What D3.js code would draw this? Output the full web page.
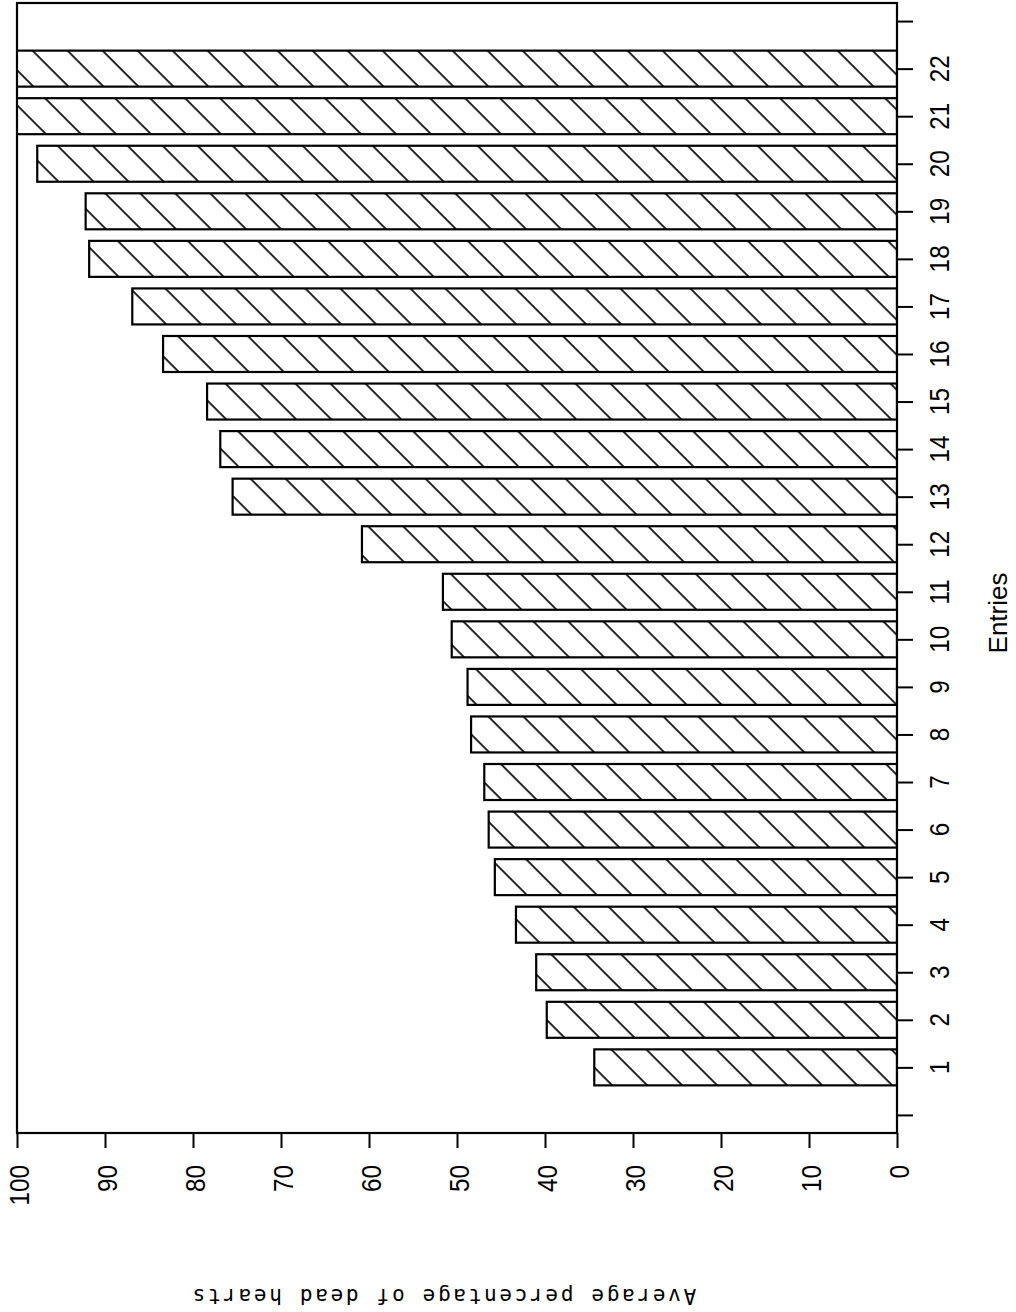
<!DOCTYPE html>
<html>
<head>
<meta charset="utf-8">
<script src="https://cdn.jsdelivr.net/npm/d3@7"></script>
<style>
  body { margin: 0; background: #fff; }
  svg { display: block; }
</style>
</head>
<body>
<div id="chart"></div>
<script>
// entries 1..22 and average % of dead hearts (21 and 22 run off the top of the scale)
var entries = [1, 2, 3, 4, 5, 6, 7, 8, 9, 10, 11,
               12, 13, 14, 15, 16, 17, 18, 19, 20, 21, 22];
var deadHearts = [34.4, 39.8, 41.0, 43.3, 45.7, 46.4, 46.9, 48.4, 48.8, 50.6, 51.6,
                  60.8, 75.5, 76.9, 78.4, 83.4, 86.9, 91.8, 92.2, 97.7, 100, 100];
var valueTicks = [0, 10, 20, 30, 40, 50, 60, 70, 80, 90, 100];
var entryTicks = d3.range(0, 24);   // 0 and 23 are blank end ticks

var w = 1016;
var h = 1312;

var svg = d3.select("#chart")
            .append("svg")
            .attr("width", w)
            .attr("height", h);

// the page is a vertical bar chart turned on its side: value runs right->left
var x = d3.scaleLinear().domain([0, 100]).range([897, 17]);
var y = d3.scaleLinear().domain([-0.38, 23.38]).range([1133, 3]);
var barH = y(0) - y(0.757);

// hatch fill
var defs = svg.append("defs");
var pat = defs.append("pattern")
    .attr("id", "hatch")
    .attr("patternUnits", "userSpaceOnUse")
    .attr("width", 24.75)
    .attr("height", 24.75)
    .attr("patternTransform", "rotate(-45)");
pat.append("line")
    .attr("x1", 12).attr("y1", 0)
    .attr("x2", 12).attr("y2", 24.75)
    .attr("stroke", "#000")
    .attr("stroke-width", 1.7);

defs.append("clipPath").attr("id", "plotClip")
    .append("rect")
    .attr("x", x(100)).attr("y", y(23.38))
    .attr("width", x(0) - x(100))
    .attr("height", y(-0.38) - y(23.38));

var data = entries.map(function(e, i) { return { entry: e, value: deadHearts[i] }; });

svg.append("g")
   .attr("clip-path", "url(#plotClip)")
   .selectAll("rect")
   .data(data)
   .enter()
   .append("rect")
   .attr("x", function(d) { return x(Math.min(d.value, 100)) - (d.value >= 100 ? 4 : 0); })
   .attr("y", function(d) { return y(d.entry) - barH / 2; })
   .attr("width", function(d) { return x(0) - x(Math.min(d.value, 100)) + (d.value >= 100 ? 4 : 0); })
   .attr("height", barH)
   .attr("fill", "url(#hatch)")
   .attr("stroke", "#000")
   .attr("stroke-width", 2.2);

// frame
svg.append("rect")
   .attr("x", x(100)).attr("y", y(23.38))
   .attr("width", x(0) - x(100))
   .attr("height", y(-0.38) - y(23.38))
   .attr("fill", "none")
   .attr("stroke", "#000")
   .attr("stroke-width", 2.2);

var labelFont = "'Liberation Sans', Arial, sans-serif";

// entry axis on the right
var entryAxis = svg.append("g")
    .attr("transform", "translate(" + x(0) + ",0)")
    .call(d3.axisRight(y).tickValues(entryTicks).tickSize(16).tickFormat(""));
entryAxis.select(".domain").remove();
entryAxis.selectAll("line").attr("stroke", "#000").attr("stroke-width", 2);

svg.append("g").selectAll("text")
   .data(entries)
   .enter()
   .append("text")
   .text(function(d) { return d; })
   .attr("transform", function(d) {
       return "translate(949," + y(d) + ") rotate(-90) scale(0.9,1)";
   })
   .attr("text-anchor", "middle")
   .attr("font-family", labelFont)
   .attr("font-size", "27px")
   .attr("fill", "#000");

// value axis along the bottom
var valueAxis = svg.append("g")
    .attr("transform", "translate(0," + y(-0.38) + ")")
    .call(d3.axisBottom(x).tickValues(valueTicks).tickSize(15).tickFormat(""));
valueAxis.select(".domain").remove();
valueAxis.selectAll("line").attr("stroke", "#000").attr("stroke-width", 2);

svg.append("g").selectAll("text")
   .data(valueTicks)
   .enter()
   .append("text")
   .text(function(d) { return d; })
   .attr("transform", function(d) {
       return "translate(" + (x(d) + 12) + ",1165) rotate(-90) scale(0.9,1)";
   })
   .attr("text-anchor", "end")
   .attr("font-family", labelFont)
   .attr("font-size", "27px")
   .attr("fill", "#000");

// axis titles
svg.append("text")
   .text("Entries")
   .attr("transform", "translate(1007,613) rotate(-90)")
   .attr("text-anchor", "middle")
   .attr("font-family", labelFont)
   .attr("font-size", "26px")
   .attr("fill", "#000");

svg.append("text")
   .text("Average percentage of dead hearts")
   .attr("transform", "translate(443,1289) rotate(180)")
   .attr("text-anchor", "middle")
   .attr("font-family", "'DejaVu Sans Mono', 'Liberation Mono', monospace")
   .attr("font-size", "21px")
   .attr("letter-spacing", "2.7px")
   .attr("fill", "#000");
</script>
</body>
</html>
